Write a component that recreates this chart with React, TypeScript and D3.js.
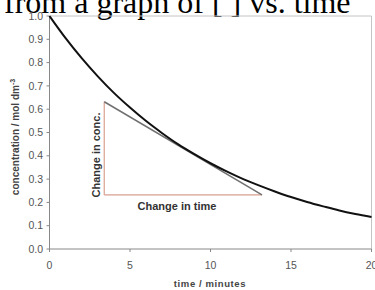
import React from "react";
import * as d3 from "d3";

const times = [0, 1, 2, 3, 4, 5, 6, 7, 8, 9, 10, 11, 12, 13, 14, 15, 16, 17, 18, 19, 20];
const conc = [1.0, 0.905, 0.819, 0.741, 0.67, 0.607, 0.549, 0.497, 0.449, 0.407, 0.368, 0.333, 0.301, 0.273, 0.247, 0.223, 0.202, 0.183, 0.165, 0.15, 0.137];
const tangentT = [3.4, 13.2];
const tangentC = [0.632, 0.232];
const xTicks = [0, 5, 10, 15, 20];
const yTicks = [0, 0.1, 0.2, 0.3, 0.4, 0.5, 0.6, 0.7, 0.8, 0.9, 1.0];

const W = 375, H = 290;
const L = 49.5, R = 371.5, T = 16, B = 249;

export default function App() {
  const x = d3.scaleLinear().domain([0, 20]).range([L, R]);
  const y = d3.scaleLinear().domain([0, 1]).range([B, T]);
  const pts = times.map((t, i) => [t, conc[i]] as [number, number]);
  const line = d3.line<[number, number]>().x(d => x(d[0])).y(d => y(d[1])).curve(d3.curveMonotoneX);
  const font = "Arial, 'Liberation Sans', sans-serif";
  return (
    <svg width={W} height={H} style={{ position: "absolute", left: 0, top: 0, display: "block", background: "#fff" }}>
      <text x={4} y={13} fontFamily="'Times New Roman', 'Liberation Serif', serif" fontSize={32} fill="#000">
        from a graph of [ ] vs. time
      </text>
      <line x1={L} x2={R} y1={T} y2={T} stroke="#c4c4c4" strokeWidth={1} />
      <line x1={R} x2={R} y1={T} y2={B} stroke="#c4c4c4" strokeWidth={1} />
      <line x1={L} x2={L} y1={T} y2={B} stroke="#888" strokeWidth={1} />
      <line x1={L} x2={R} y1={B} y2={B} stroke="#888" strokeWidth={1} />
      {yTicks.map(v => (
        <g key={"y" + v}>
          <line x1={L - 3} x2={L} y1={y(v)} y2={y(v)} stroke="#888" />
          <text x={43} y={y(v)} dy="0.35em" textAnchor="end" fontFamily={font} fontSize={10.5} fill="#555">
            {v.toFixed(1)}
          </text>
        </g>
      ))}
      {xTicks.map(v => (
        <g key={"x" + v}>
          <line x1={x(v)} x2={x(v)} y1={B} y2={B + 3} stroke="#888" />
          <text x={x(v)} y={265} dy="0.35em" textAnchor="middle" fontFamily={font} fontSize={10.5} fill="#555">
            {v}
          </text>
        </g>
      ))}
      <text x={210} y={284} dy="0.35em" textAnchor="middle" fontFamily={font} fontSize={9.5} fontWeight="bold" fill="#444" letterSpacing={0.6}>
        time / minutes
      </text>
      <text transform="translate(15,137) rotate(-90)" dy="0.35em" textAnchor="middle" fontFamily={font} fontSize={10} fontWeight="bold" fill="#444">
        concentration / mol dm<tspan dy="-4" fontSize={7}>-3</tspan>
      </text>
      <line x1={x(tangentT[0])} x2={x(tangentT[0])} y1={y(tangentC[0])} y2={y(tangentC[1])} stroke="#d8a090" strokeWidth={1.2} />
      <line x1={x(tangentT[0])} x2={x(tangentT[1])} y1={y(tangentC[1])} y2={y(tangentC[1])} stroke="#d8a090" strokeWidth={1.2} />
      <line x1={x(tangentT[0])} x2={x(tangentT[1])} y1={y(tangentC[0])} y2={y(tangentC[1])} stroke="#707070" strokeWidth={1.5} />
      <path d={line(pts) || ""} fill="none" stroke="#111" strokeWidth={2} />
      <text transform="translate(96,155) rotate(-90)" dy="0.35em" textAnchor="middle" fontFamily={font} fontSize={11} fontWeight="bold" fill="#333">
        Change in conc.
      </text>
      <text x={177} y={206} dy="0.35em" textAnchor="middle" fontFamily={font} fontSize={11} fontWeight="bold" fill="#333">
        Change in time
      </text>
    </svg>
  );
}
